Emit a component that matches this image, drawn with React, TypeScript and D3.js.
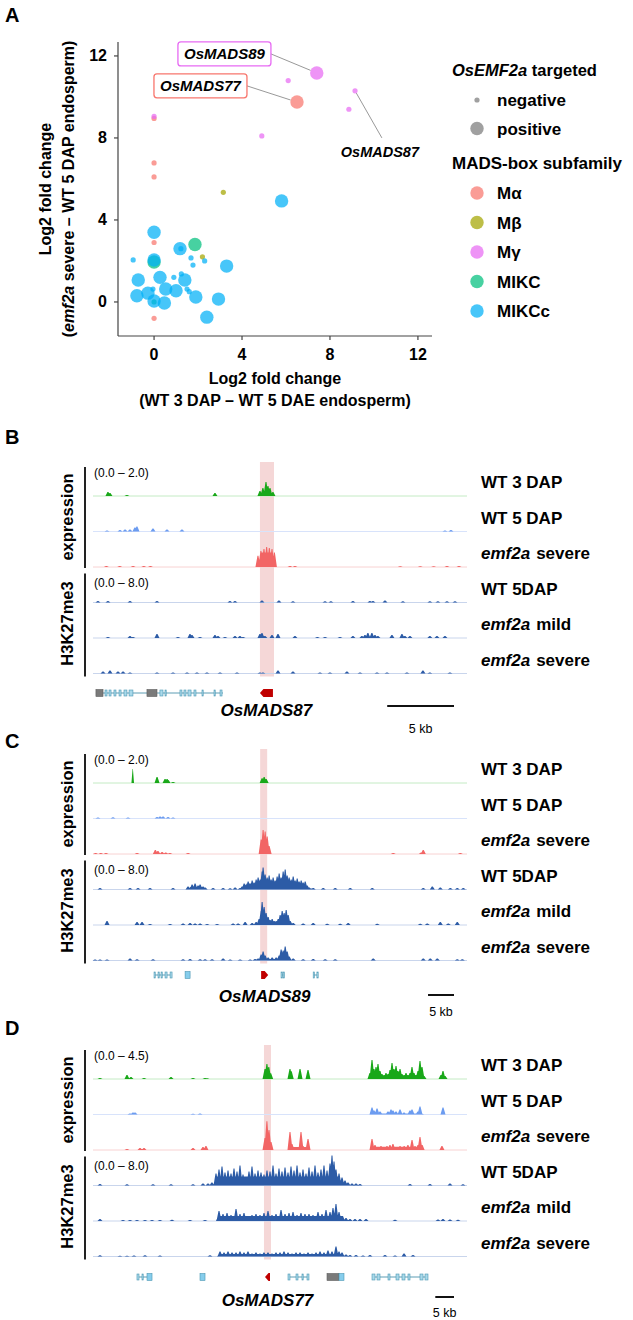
import React from 'react';
import * as d3 from 'd3';

const FONT = "'Liberation Sans', Arial, Helvetica, sans-serif";

// ---------------- Panel A data ----------------
const X_TICKS = [0, 4, 8, 12];
const Y_TICKS = [0, 4, 8, 12];
const SUBFAMILIES = ['Mα', 'Mβ', 'Mγ', 'MIKC', 'MIKCc'];
const SUBFAMILY_COLORS = ['#F8766D', '#A3A500', '#E76BF3', '#00BF7D', '#00B0F6'];
const TARGETED = ['negative', 'positive'];
// [x, y, targeted(0 negative / 1 positive)]
const M_ALPHA = [[6.5, 9.75, 1], [0, 8.95, 0], [0, 6.78, 0], [0, 6.1, 0], [0, 2.9, 0], [0, -0.8, 0]];
const M_BETA = [[3.15, 5.35, 0], [2.2, 2.2, 0]];
const M_GAMMA = [[7.4, 11.17, 1], [6.1, 10.8, 0], [9.14, 10.3, 0], [8.86, 9.4, 0], [4.9, 8.1, 0], [0, 9.05, 0]];
const MIKC = [[1.86, 2.8, 1], [0, 1.95, 1], [0, 0, 0]];
const MIKCC = [
  [5.8, 4.93, 1], [0, 3.4, 1], [1.18, 2.6, 1], [1.22, 2.6, 0], [2.3, 2.0, 0], [1.68, 2.15, 0], [1.77, 1.8, 0],
  [-0.95, 2.05, 0], [0, 2.05, 1], [3.3, 1.75, 1], [-0.72, 1.07, 1], [0.27, 1.2, 1], [0.9, 1.2, 0], [1.24, 1.37, 0],
  [1.4, 1.07, 1], [-0.78, 0.3, 1], [-0.28, 0.43, 1], [-0.05, 0.63, 0], [0.53, 0.63, 1], [1.0, 0.55, 1], [1.5, 0.63, 0],
  [1.6, 0.5, 0], [0, 0.05, 1], [0.47, -0.05, 1], [1.9, 0.24, 1], [2.93, 0.14, 1], [2.4, -0.74, 1],
];
const POINT_GROUPS = [M_ALPHA, M_BETA, M_GAMMA, MIKC, MIKCC];
const LABEL_NAMES = ['OsMADS89', 'OsMADS77', 'OsMADS87'];
const LABEL_XY = [[3.2, 12.1], [2.11, 10.54], [10.27, 7.32]];
const LABEL_POINT = [[7.4, 11.17], [6.5, 9.75], [9.14, 10.3]];
const LABEL_GROUP = [2, 0, 2];
const LABEL_BOXED = [true, true, false];

// ---------------- Track data ----------------
// peaks: [position kb, signal, optional half-width kb]
const TRACK_NAMES = [['WT 3 DAP'], ['WT 5 DAP'], ['emf2a', 'severe'], ['WT 5DAP'], ['emf2a', 'mild'], ['emf2a', 'severe']];

// Panel B: OsMADS87, 28 kb window
const B_WT3 = [[1.12, 0.25], [1.27, 0.19], [2.54, 0.06], [9.13, 0.19], [12.98, 0.2, 0.45], [12.5, 0.31], [12.72, 0.5], [12.95, 0.88], [13.1, 0.62], [13.25, 0.5], [13.47, 0.25]];
const B_WT5 = [[1.05, 0.06], [2.02, 0.1], [2.4, 0.12], [2.77, 0.12], [3.14, 0.25], [3.29, 0.31], [4.49, 0.19], [5.54, 0.12], [6.66, 0.12], [26.35, 0.06], [26.8, 0.1]];
const B_SEV = [[1.0, 0.06], [2.0, 0.06], [3.0, 0.06], [3.8, 0.06], [4.3, 0.06], [12.97, 0.9, 0.6], [12.35, 0.7], [12.57, 1.0], [12.8, 1.12], [13.0, 1.25], [13.2, 1.19], [13.4, 1.12], [13.58, 0.9], [14.75, 0.06], [15.12, 0.06], [23.0, 0.04], [24.5, 0.05], [25.5, 0.05], [26.5, 0.06], [27.4, 0.06]];
const B_H3_WT = [[0.37, 0.35], [1.12, 0.35], [2.77, 0.35], [4.79, 0.35], [10.25, 0.35], [10.63, 0.35], [12.65, 0.5], [13.92, 0.5], [14.97, 0.3], [17.37, 0.3], [17.81, 0.3], [19.46, 0.35], [20.73, 0.35], [20.96, 0.35], [21.86, 0.5], [23.2, 0.3], [25.22, 0.3], [25.82, 0.3], [26.5, 0.3], [27.1, 0.3]];
const B_H3_MILD = [[1.12, 0.25], [2.77, 0.5], [2.99, 0.25], [4.79, 1.0], [6.36, 0.25], [7.26, 1.0], [7.41, 0.75], [8.01, 0.25], [9.13, 0.75], [9.36, 0.5], [9.88, 0.25], [10.63, 0.5], [11.0, 0.5], [11.23, 0.25], [12.5, 1.0], [12.65, 1.25], [12.87, 0.5], [13.4, 0.75], [13.85, 1.0], [15.12, 0.5], [16.8, 0.25], [17.37, 0.25], [18.49, 0.25], [19.46, 0.5], [20.13, 0.5], [20.36, 0.75], [20.58, 1.25], [20.88, 1.25], [21.11, 0.75], [21.33, 0.5], [22.38, 0.75], [23.13, 1.0], [23.35, 0.5], [23.73, 0.5], [25.22, 0.5], [25.75, 0.5], [26.35, 0.5]];
const B_H3_SEV = [[0.75, 0.5], [1.27, 0.75], [1.87, 0.5], [2.25, 0.5], [2.77, 0.25], [4.79, 0.25], [5.99, 0.25], [7.04, 0.25], [7.78, 0.25], [8.53, 0.25], [9.51, 0.25], [10.78, 0.25], [12.5, 0.25], [12.72, 0.25], [13.85, 0.75], [14.97, 0.5], [16.99, 0.25], [17.74, 0.25], [19.01, 0.5], [19.99, 0.25], [21.26, 0.25], [22.01, 0.25], [23.5, 0.25], [24.7, 0.75], [25.22, 0.25], [26.72, 0.25]];
const B_GENES = [
  { span: [0.22, 9.73], exons: [[0.22, 0.75, 'g'], [0.9, 1.05, 'c'], [1.2, 1.35, 'c'], [1.57, 1.72, 'c'], [1.95, 2.1, 'c'], [2.32, 2.54, 'c'], [2.7, 2.99, 'c'], [4.04, 4.79, 'g'], [5.01, 5.24, 'c'], [5.39, 5.46, 'c'], [6.51, 6.66, 'c'], [6.81, 6.96, 'c'], [7.11, 7.34, 'c'], [7.56, 7.71, 'c'], [8.16, 8.23, 'c'], [9.06, 9.13, 'c'], [9.51, 9.66, 'c']] },
];
const B_TARGET = [12.5, 13.47, -1];
const B_HIGHLIGHT = [12.5, 13.55];

// Panel C: OsMADS89, 72 kb window
const C_WT3 = [[7.65, 0.88, 0.25], [12.33, 0.38], [13.87, 0.25], [14.26, 0.25], [14.45, 0.19], [15.41, 0.06], [32.56, 0.3], [32.95, 0.38], [33.33, 0.25]];
const C_WT5 = [[0.96, 0.06], [3.85, 0.08], [6.74, 0.06], [12.33, 0.1], [12.91, 0.12], [13.49, 0.12], [14.45, 0.1], [15.41, 0.06]];
const C_SEV = [[0.5, 0.06], [1.5, 0.06], [2.5, 0.06], [8.48, 0.06], [12.0, 0.25], [12.5, 0.19], [13.3, 0.12], [14.0, 0.1], [14.8, 0.06], [18.3, 0.06], [33.05, 0.9, 0.67], [32.37, 0.9], [32.75, 1.5], [33.14, 1.4], [33.53, 1.1], [33.9, 0.5], [57.8, 0.06], [63.2, 0.1], [63.58, 0.25], [70.71, 0.06]];
const C_H3_WT = [[1.35, 0.4], [7.13, 0.4], [8.67, 0.4], [10.98, 0.4], [15.41, 0.4], [19.94, 0.6, 1.6], [18.3, 0.75], [19.08, 1.25], [19.65, 1.5], [20.23, 1.0], [20.62, 1.25], [21.19, 0.75], [21.58, 0.5], [23.12, 0.4], [25.05, 0.4], [26.4, 0.3], [27.36, 0.5], [28.32, 0.4],
  [35.0, 1.5, 5.8], [28.71, 0.75], [29.1, 1.5], [29.48, 1.25], [29.87, 2.0], [30.25, 1.5], [30.64, 2.25], [31.02, 1.75], [31.41, 2.5], [31.79, 3.0], [32.18, 2.5], [32.56, 4.5], [32.75, 5.5], [33.14, 3.75], [33.53, 3.0], [33.91, 3.5], [34.3, 2.5], [34.68, 3.0], [35.07, 2.25], [35.45, 3.25], [35.84, 4.0], [36.22, 3.0], [36.61, 4.5], [37.0, 5.0], [37.38, 3.5], [37.76, 3.0], [38.15, 2.5], [38.54, 3.25], [38.92, 2.25], [39.31, 2.75], [39.69, 2.0], [40.08, 2.25], [40.46, 1.75], [40.85, 2.0], [41.23, 1.0], [41.62, 0.5], [42.0, 0.25],
  [42.39, 0.4], [44.32, 0.4], [46.63, 0.4], [49.52, 0.4], [53.76, 0.4], [63.58, 0.4], [65.32, 0.75], [66.86, 0.5], [68.79, 0.4], [70.13, 0.4], [71.29, 0.4]];
const C_H3_MILD = [[2.7, 1.0], [8.48, 0.75], [9.44, 0.75], [10.98, 0.25], [14.84, 0.25], [17.34, 0.4], [18.69, 0.5], [19.65, 0.4], [20.62, 0.4], [21.97, 0.25], [23.89, 0.25], [26.97, 0.4], [27.94, 0.4], [29.29, 0.75], [30.64, 0.5], [31.41, 0.75],
  [34.97, 0.75, 3.0], [31.98, 1.5], [32.37, 3.5], [32.56, 5.75], [32.95, 4.5], [33.33, 3.0], [33.72, 2.0], [34.1, 1.25], [34.49, 1.5], [34.88, 1.0], [35.26, 1.0], [35.65, 1.5], [36.03, 2.5], [36.42, 3.5], [36.8, 3.0], [37.19, 3.75], [37.57, 2.5], [37.96, 1.0], [38.54, 0.5],
  [40.46, 0.4], [42.39, 0.5], [45.09, 0.3], [47.59, 0.3], [49.13, 0.5], [54.72, 0.3], [63.0, 0.3], [64.35, 0.4], [66.86, 0.75], [68.4, 0.4], [70.13, 0.75]];
const C_H3_SEV = [[0.4, 0.25], [1.35, 0.25], [2.7, 0.25], [7.13, 0.5], [8.48, 0.3], [11.56, 0.3], [17.34, 0.3], [18.69, 0.4], [20.62, 0.3], [21.58, 0.3], [22.93, 0.3], [25.05, 0.5], [26.4, 0.25], [28.32, 0.25], [30.25, 0.25], [31.2, 0.4], [31.79, 0.5],
  [34.97, 0.4, 3.0], [32.37, 1.5], [32.75, 2.25], [33.14, 1.25], [33.72, 0.75], [34.49, 0.75], [35.26, 0.75], [35.84, 1.25], [36.22, 2.75], [36.61, 2.5], [37.0, 3.5], [37.38, 2.25], [37.76, 1.0], [38.54, 0.5],
  [40.46, 0.3], [42.39, 0.4], [44.7, 0.3], [46.63, 0.3], [53.95, 0.5], [63.58, 0.5], [64.93, 0.5], [66.28, 0.5], [70.13, 0.3], [71.1, 0.3]];
const C_GENES = [
  { span: [11.75, 15.22], exons: [[11.75, 11.95, 'c'], [12.52, 12.72, 'c'], [13.1, 13.3, 'c'], [13.87, 14.26, 'c'], [14.84, 15.22, 'c']] },
  { span: [17.73, 18.69], exons: [[17.73, 18.69, 'u']] },
  { span: [36.2, 36.8], exons: [[36.2, 36.45, 'c'], [36.6, 36.8, 'c']] },
  { span: [42.39, 43.35], exons: [[42.39, 42.6, 'c'], [43.1, 43.35, 'c']] },
];
const C_TARGET = [32.37, 33.72, 1];
const C_HIGHLIGHT = [32.18, 33.53];

// Panel D: OsMADS77, 100 kb window
const D_WT3 = [[1.87, 0.14], [9.09, 0.56], [10.16, 0.28], [13.64, 0.14], [20.86, 0.28], [26.74, 0.14], [29.95, 0.14], [30.48, 0.1], [46.0, 1.4], [46.5, 2.1], [47.0, 1.7], [47.5, 0.8], [52.67, 1.4], [53.0, 1.1], [55.35, 1.4], [57.49, 1.26],
  [81.55, 0.5, 6.95], [74.06, 0.84], [74.6, 2.66], [75.13, 1.4], [75.67, 1.68], [76.2, 2.1], [76.74, 1.12], [77.27, 0.7], [77.81, 0.56], [78.34, 0.84], [78.88, 0.7], [79.41, 1.26], [79.95, 2.24], [80.48, 1.4], [81.02, 1.82], [81.55, 1.12], [82.09, 1.4], [82.62, 0.7], [83.16, 0.56], [83.69, 0.84], [84.22, 0.56], [84.76, 0.84], [85.29, 1.68], [85.83, 0.84], [86.36, 0.56], [86.9, 1.12], [87.43, 2.52], [87.97, 1.68], [88.5, 0.42], [93.05, 0.56], [93.58, 1.12], [94.12, 0.42]];
const D_WT5 = [[9.89, 0.14], [10.7, 0.28], [11.23, 0.28], [26.74, 0.1], [28.61, 0.14], [81.55, 0.15, 6.95], [74.6, 1.0], [75.13, 0.56], [75.94, 0.84], [76.74, 0.42], [78.88, 0.42], [79.68, 0.7], [80.2, 0.56], [81.02, 0.42], [82.09, 0.7], [83.16, 0.28], [84.76, 0.56], [85.29, 0.7], [86.9, 0.42], [87.43, 1.12], [93.58, 1.0]];
const D_SEV = [[9.09, 0.14], [12.57, 0.28], [13.64, 0.28], [26.74, 0.28], [29.41, 0.42], [30.2, 0.56], [45.99, 1.68], [46.5, 4.06], [47.06, 2.8], [47.59, 1.12], [55.08, 0.42, 2.4], [52.67, 2.52], [53.2, 0.84], [54.0, 0.42], [54.8, 0.42], [55.61, 2.52], [56.15, 0.56], [56.95, 0.42], [57.49, 1.54],
  [81.55, 0.45, 6.95], [74.6, 1.54], [75.4, 0.7], [76.2, 0.42], [77.0, 0.56], [77.8, 0.42], [78.6, 0.56], [79.4, 0.7], [80.2, 0.84], [81.0, 0.42], [82.1, 0.56], [83.2, 0.56], [84.2, 0.7], [85.3, 1.4], [86.1, 0.56], [86.9, 0.7], [87.43, 1.82], [88.0, 0.7], [93.3, 0.56]];
const D_H3_WT = [[1.87, 0.4], [9.09, 0.3], [16.04, 0.3], [20.86, 0.3], [26.74, 0.3], [29.41, 0.5], [30.75, 0.5], [31.8, 0.75],
  [49.33, 2.25, 16.7], [32.89, 3.0], [33.69, 4.0], [34.49, 4.75], [35.29, 3.25], [36.1, 3.75], [36.9, 3.0], [37.7, 4.25], [38.5, 3.5], [39.3, 5.0], [40.11, 2.75], [40.91, 2.0], [41.71, 3.5], [42.51, 4.75], [43.32, 3.0], [44.12, 3.75], [44.92, 3.25], [45.72, 2.75], [46.52, 3.75], [47.33, 3.5], [48.13, 5.0], [48.93, 3.0], [49.73, 4.25], [50.53, 3.5], [51.34, 4.5], [52.14, 3.25], [52.94, 4.75], [53.74, 3.75], [54.55, 5.0], [55.35, 3.25], [56.15, 4.0], [56.95, 3.0], [57.75, 4.5], [58.56, 3.5], [59.36, 5.0], [60.16, 3.25], [60.96, 4.0], [61.76, 5.0], [62.57, 3.75], [63.37, 5.5], [63.9, 7.5], [64.44, 6.0], [64.97, 4.0], [65.78, 3.0], [66.58, 2.0], [67.38, 1.25], [68.18, 0.75], [69.25, 0.5], [70.32, 0.5], [71.39, 0.4],
  [84.76, 0.4], [90.1, 0.4], [95.45, 0.5], [98.93, 0.3]];
const D_H3_MILD = [[1.87, 0.5], [8.02, 0.25], [9.89, 0.25], [11.76, 0.25], [13.9, 0.25], [15.78, 0.25], [17.9, 0.25], [21.12, 0.3], [25.94, 0.25], [29.95, 0.25],
  [50.13, 1.25, 17.25], [33.69, 2.5], [34.76, 1.75], [35.83, 2.0], [36.9, 1.5], [38.24, 3.0], [39.3, 1.75], [40.37, 2.0], [41.44, 1.25], [42.51, 1.5], [43.58, 1.75], [44.65, 1.5], [45.72, 2.0], [46.79, 2.5], [47.86, 1.5], [48.93, 1.75], [50.27, 2.75], [51.34, 1.75], [52.41, 2.0], [53.48, 2.25], [54.55, 1.5], [55.61, 2.0], [56.68, 1.75], [57.75, 1.75], [58.82, 1.5], [60.16, 2.25], [61.23, 1.75], [62.3, 2.75], [63.37, 2.25], [64.17, 3.25], [64.97, 4.25], [65.78, 2.25], [66.58, 1.25], [67.65, 0.75], [68.72, 0.5], [70.05, 0.5], [71.39, 0.5], [73.0, 0.5],
  [80.75, 0.3], [92.25, 0.4], [93.58, 0.5], [95.45, 0.4], [97.6, 0.3]];
const D_H3_SEV = [[1.87, 0.3], [7.2, 0.2], [9.09, 0.2], [10.96, 0.25], [13.9, 0.3], [17.9, 0.25], [31.28, 0.3],
  [50.27, 0.6, 17.1], [33.96, 1.25], [35.03, 1.0], [36.1, 1.25], [37.17, 1.0], [38.24, 1.0], [39.3, 1.25], [40.37, 1.0], [41.44, 1.25], [42.51, 0.75], [43.58, 1.0], [44.65, 0.75], [45.72, 1.0], [46.79, 1.0], [47.86, 0.75], [48.93, 1.0], [50.0, 1.0], [51.07, 1.25], [52.14, 1.0], [53.21, 0.75], [54.28, 1.0], [55.35, 1.0], [56.42, 0.75], [57.49, 1.0], [58.56, 0.75], [59.63, 1.0], [60.7, 1.25], [61.76, 1.0], [62.83, 1.5], [63.9, 1.25], [64.97, 2.5], [65.78, 1.25], [66.58, 1.0], [67.65, 0.5], [68.72, 0.4], [70.32, 0.4], [72.19, 0.25], [74.06, 0.4], [78.07, 0.4], [80.75, 0.25], [83.16, 0.75], [85.56, 0.4]];
const D_GENES = [
  { span: [11.76, 15.78], exons: [[11.76, 12.3, 'c'], [13.1, 13.37, 'c'], [14.44, 15.78, 'u']] },
  { span: [28.61, 29.95], exons: [[28.61, 29.95, 'u']] },
  { span: [52.14, 57.75], exons: [[52.14, 52.67, 'c'], [54.28, 54.81, 'c'], [55.88, 56.15, 'c'], [57.22, 57.75, 'c']] },
  { span: [62.57, 67.11], exons: [[62.57, 65.78, 'g'], [65.78, 67.11, 'u']] },
  { span: [74.6, 89.57], exons: [[74.6, 75.4, 'c'], [75.94, 76.74, 'c'], [78.88, 79.41, 'c'], [81.02, 81.82, 'c'], [82.62, 83.42, 'c'], [84.22, 84.76, 'c'], [87.43, 88.24, 'c'], [88.77, 89.57, 'c']] },
];
const D_TARGET = [45.99, 47.33, -1];
const D_HIGHLIGHT = [45.72, 47.59];

// ---------------- Styles ----------------
const TRACK_COLORS = ['#19a819', '#6c9cf0', '#f26565', '#2c5ba6', '#2c5ba6', '#2c5ba6'];
const TRACK_BASE_COLORS = ['#c4ebc4', '#d8e3fb', '#f8d2d2', '#c9d5ec', '#c9d5ec', '#c9d5ec'];
const EXON_FILL: Record<string, string> = { c: '#a9d9ea', u: '#86cdec', g: '#7a7a7a' };
const EXON_STROKE: Record<string, string> = { c: '#4b97b3', u: '#4b97b3', g: '#5d5d5d' };

const polyLine = d3.line<[number, number]>();

function peaksPath(peaks: number[][], xs: d3.ScaleLinear<number, number>, hs: d3.ScaleLinear<number, number>, base: number) {
  return peaks.map((p) => {
    const cx = xs(p[0]);
    const hw = p.length > 2 ? xs(p[0] + p[2]) - cx : 2.5;
    const hp = hs(p[1]);
    const ramp = Math.min(hw * 0.85, 2);
    return polyLine([[cx - hw, base], [cx - hw + ramp, base - hp], [cx + hw - ramp, base - hp], [cx + hw, base]]) + 'Z';
  }).join('');
}

function Scatter() {
  const x = d3.scaleLinear().domain([-1.64, 12.64]).range([118, 432]);
  const y = d3.scaleLinear().domain([-1.66, 12.68]).range([336, 42]);
  const rOf = (t: number) => (t ? 6.7 : 2.6);
  return (
    <g>
      <text x={5} y={22} fontSize={20} fontWeight="bold">A</text>
      <line x1={118} x2={118} y1={42} y2={336} stroke="#444" strokeWidth={1.2} />
      <line x1={118} x2={432} y1={336} y2={336} stroke="#444" strokeWidth={1.2} />
      {X_TICKS.map((t) => (
        <g key={'x' + t}>
          <line x1={x(t)} x2={x(t)} y1={336} y2={340} stroke="#444" strokeWidth={1.2} />
          <text x={x(t)} y={360} fontSize={16} fontWeight="bold" textAnchor="middle">{t}</text>
        </g>
      ))}
      {Y_TICKS.map((t) => (
        <g key={'y' + t}>
          <line x1={114} x2={118} y1={y(t)} y2={y(t)} stroke="#444" strokeWidth={1.2} />
          <text x={107} y={y(t) + 5.5} fontSize={16} fontWeight="bold" textAnchor="end">{t}</text>
        </g>
      ))}
      <text x={275} y={384} fontSize={16} fontWeight="bold" textAnchor="middle">Log2 fold change</text>
      <text x={275} y={406} fontSize={16} fontWeight="bold" textAnchor="middle">(WT 3 DAP – WT 5 DAE endosperm)</text>
      <text transform="translate(51,189) rotate(-90)" fontSize={16} fontWeight="bold" textAnchor="middle">Log2 fold change</text>
      <text transform="translate(74,189) rotate(-90)" fontSize={16} fontWeight="bold" textAnchor="middle">
        (<tspan fontStyle="italic">emf2a</tspan> severe – WT 5 DAP endosperm)
      </text>
      {LABEL_NAMES.map((n, i) => {
        const lx = x(LABEL_XY[i][0]);
        const ly = y(LABEL_XY[i][1]);
        const px = x(LABEL_POINT[i][0]);
        const py = y(LABEL_POINT[i][1]);
        const sx = LABEL_BOXED[i] ? lx + 46.5 : lx + 2;
        const sy = LABEL_BOXED[i] ? ly : ly - 14;
        const dx = px - sx, dy = py - sy;
        const len = Math.sqrt(dx * dx + dy * dy);
        const r = rOf(LABEL_BOXED[i] ? 1 : 0);
        return <line key={n} x1={sx} y1={sy} x2={px - (dx / len) * r} y2={py - (dy / len) * r} stroke="#999" strokeWidth={1} />;
      })}
      {POINT_GROUPS.map((grp, gi) => (
        <g key={gi}>
          {grp.map((p, i) => (
            <circle key={i} cx={x(p[0])} cy={y(p[1])} r={rOf(p[2])} fill={SUBFAMILY_COLORS[gi]} fillOpacity={0.72} />
          ))}
        </g>
      ))}
      {LABEL_NAMES.map((n, i) => {
        const lx = x(LABEL_XY[i][0]);
        const ly = y(LABEL_XY[i][1]);
        return (
          <g key={n}>
            {LABEL_BOXED[i] && (
              <rect x={lx - 46.5} y={ly - 12} width={93} height={24} rx={3} fill="#fff" stroke={SUBFAMILY_COLORS[LABEL_GROUP[i]]} strokeWidth={1.3} />
            )}
            <text x={lx} y={ly + 5} fontSize={LABEL_BOXED[i] ? 15 : 14.5} fontWeight="bold" fontStyle="italic" textAnchor="middle">{n}</text>
          </g>
        );
      })}
      <text x={452} y={76} fontSize={16.5} fontWeight="bold"><tspan fontStyle="italic">OsEMF2a</tspan> targeted</text>
      {TARGETED.map((t, i) => (
        <g key={t}>
          <circle cx={477} cy={100 + i * 28.5} r={rOf(i)} fill="#a0a0a0" />
          <text x={497} y={106 + i * 28.5} fontSize={17} fontWeight="bold">{t}</text>
        </g>
      ))}
      <text x={452} y={169} fontSize={17} fontWeight="bold">MADS-box subfamily</text>
      {SUBFAMILIES.map((s, i) => (
        <g key={s}>
          <circle cx={477} cy={193 + i * 29.5} r={6.7} fill={SUBFAMILY_COLORS[i]} fillOpacity={0.72} />
          <text x={497} y={199 + i * 29.5} fontSize={17} fontWeight="bold">{s}</text>
        </g>
      ))}
    </g>
  );
}

type PanelProps = {
  letter: string; letterY: number; base0: number; windowKb: number; exprRange: string; exprMax: number;
  tracks: number[][][]; genes: { span: number[]; exons: (number | string)[][] }[]; target: number[]; targetName: string;
  highlight: number[]; geneY: number; nameY: number; barY: number; barTextY: number;
};

function TrackPanel(p: PanelProps) {
  const xs = d3.scaleLinear().domain([0, p.windowKb]).range([93, 467]);
  const hExpr = d3.scaleLinear().domain([0, p.exprMax]).range([0, 32]);
  const hChip = d3.scaleLinear().domain([0, 8]).range([0, 32]);
  const baseOf = (i: number) => p.base0 + i * 35.5;
  const b5 = baseOf(5);
  const t0 = xs(p.target[0]);
  const t1 = xs(p.target[1]);
  const gy = p.geneY;
  const targetPts: [number, number][] = p.target[2] < 0
    ? [[t0, gy], [t0 + 3.5, gy - 4], [t1, gy - 4], [t1, gy + 4], [t0 + 3.5, gy + 4]]
    : [[t1, gy], [t1 - 3.5, gy - 4], [t0, gy - 4], [t0, gy + 4], [t1 - 3.5, gy + 4]];
  const sbLen = xs(5) - xs(0);
  return (
    <g>
      <text x={5} y={p.letterY} fontSize={20} fontWeight="bold">{p.letter}</text>
      <rect x={xs(p.highlight[0])} y={p.base0 - 34} width={xs(p.highlight[1]) - xs(p.highlight[0])} height={b5 + 3 - (p.base0 - 34)} fill="#f1c9c9" fillOpacity={0.75} />
      <line x1={85} x2={85} y1={baseOf(0) - 29} y2={baseOf(2) + 1} stroke="#222" strokeWidth={2} />
      <line x1={85} x2={85} y1={baseOf(3) - 29} y2={baseOf(5) + 3} stroke="#222" strokeWidth={2} />
      <text transform={`translate(73,${(baseOf(0) - 29 + baseOf(2)) / 2}) rotate(-90)`} fontSize={16.5} fontWeight="bold" textAnchor="middle">expression</text>
      <text transform={`translate(73,${(baseOf(3) - 29 + baseOf(5)) / 2}) rotate(-90)`} fontSize={16.5} fontWeight="bold" textAnchor="middle">H3K27me3</text>
      <text x={94} y={baseOf(0) - 19} fontSize={12}>{p.exprRange}</text>
      <text x={94} y={baseOf(3) - 16} fontSize={12}>(0.0 – 8.0)</text>
      {p.tracks.map((tr, i) => {
        const base = baseOf(i);
        return (
          <g key={i}>
            <line x1={93} x2={467} y1={base} y2={base} stroke={TRACK_BASE_COLORS[i]} strokeWidth={1} />
            <path d={peaksPath(tr, xs, i < 3 ? hExpr : hChip, base)} fill={TRACK_COLORS[i]} />
          </g>
        );
      })}
      {TRACK_NAMES.map((nm, i) => (
        <text key={i} x={481} y={baseOf(i) - 8} fontSize={17} fontWeight="bold">
          {nm.length > 1 ? (<><tspan fontStyle="italic">{nm[0]}</tspan><tspan dx={6}>{nm[1]}</tspan></>) : nm[0]}
        </text>
      ))}
      {p.genes.map((g, i) => (
        <g key={i}>
          <line x1={xs(g.span[0])} x2={xs(g.span[1])} y1={gy} y2={gy} stroke="#5d9db4" strokeWidth={1} />
          {g.exons.map((e, j) => {
            const x0 = xs(e[0] as number);
            const x1 = xs(e[1] as number);
            const k = e[2] as string;
            const h = k === 'c' ? 6 : 7;
            return <rect key={j} x={x0} y={gy - h / 2} width={Math.max(1.2, x1 - x0)} height={h} fill={EXON_FILL[k]} stroke={EXON_STROKE[k]} strokeWidth={0.6} />;
          })}
        </g>
      ))}
      <path d={polyLine(targetPts) + 'Z'} fill="#c00000" />
      <text x={(t0 + t1) / 2} y={p.nameY} fontSize={17} fontWeight="bold" fontStyle="italic" textAnchor="middle">{p.targetName}</text>
      <line x1={454 - sbLen} x2={454} y1={p.barY} y2={p.barY} stroke="#111" strokeWidth={2} />
      <text x={454 - sbLen / 2} y={p.barTextY} fontSize={12.5} textAnchor="middle">5 kb</text>
    </g>
  );
}

export default function App() {
  return (
    <svg width={633} height={1320} style={{ position: 'absolute', left: 0, top: 0, display: 'block' }} fontFamily={FONT}>
      <rect x={0} y={0} width={633} height={1320} fill="#fff" />
      <Scatter />
      <TrackPanel letter="B" letterY={444} base0={496} windowKb={28} exprRange="(0.0 – 2.0)" exprMax={2.0}
        tracks={[B_WT3, B_WT5, B_SEV, B_H3_WT, B_H3_MILD, B_H3_SEV]} genes={B_GENES} target={B_TARGET} targetName="OsMADS87"
        highlight={B_HIGHLIGHT} geneY={693} nameY={716} barY={706} barTextY={733} />
      <TrackPanel letter="C" letterY={748} base0={783} windowKb={72} exprRange="(0.0 – 2.0)" exprMax={2.0}
        tracks={[C_WT3, C_WT5, C_SEV, C_H3_WT, C_H3_MILD, C_H3_SEV]} genes={C_GENES} target={C_TARGET} targetName="OsMADS89"
        highlight={C_HIGHLIGHT} geneY={975} nameY={1002} barY={995} barTextY={1016} />
      <TrackPanel letter="D" letterY={1035} base0={1079} windowKb={100} exprRange="(0.0 – 4.5)" exprMax={4.5}
        tracks={[D_WT3, D_WT5, D_SEV, D_H3_WT, D_H3_MILD, D_H3_SEV]} genes={D_GENES} target={D_TARGET} targetName="OsMADS77"
        highlight={D_HIGHLIGHT} geneY={1277} nameY={1306} barY={1297} barTextY={1317} />
    </svg>
  );
}
